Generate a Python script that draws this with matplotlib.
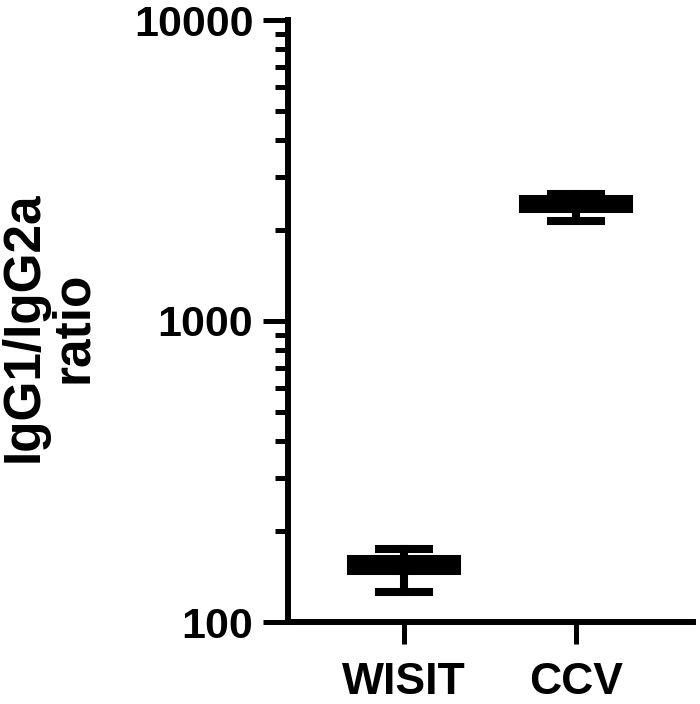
import numpy as np
import matplotlib.pyplot as plt
from matplotlib.ticker import LogLocator, NullFormatter, FixedLocator

plt.rcParams['font.family'] = ['Liberation Sans', 'DejaVu Sans']
plt.rcParams['font.weight'] = 'bold'

# box summary values
groups = ['WISIT', 'CCV']
whislo = [126, 2150]
q1 = [148, 2362]
med = [155, 2450]
q3 = [162, 2551]
whishi = [175, 2650]

stats = []
for i, g in enumerate(groups):
    stats.append(dict(label=g, whislo=whislo[i], q1=q1[i], med=med[i],
                      q3=q3[i], whishi=whishi[i], fliers=[]))

fig = plt.figure(figsize=(7, 7.04), dpi=100)
ax = fig.add_axes([288/700, (704-622)/704, (693-288)/700, (622-20)/704])

lw = 5.8
ax.bxp(stats, positions=[0, 1], widths=0.62, patch_artist=True,
       boxprops=dict(facecolor='black', edgecolor='black', linewidth=lw),
       whiskerprops=dict(color='black', linewidth=lw),
       capprops=dict(color='black', linewidth=lw),
       medianprops=dict(color='black', linewidth=lw),
       capwidths=0.29, showfliers=False)

ax.set_yscale('log')
ax.set_ylim(100, 10000)
ax.set_xlim(-0.674, 1.68)

ax.yaxis.set_major_locator(FixedLocator([100, 1000, 10000]))
ax.yaxis.set_major_formatter(plt.FuncFormatter(lambda v, p: '%d' % v))
ax.yaxis.set_minor_locator(LogLocator(base=10, subs=np.arange(2, 10)))
ax.yaxis.set_minor_formatter(NullFormatter())

ax.set_xticks([0, 1])
ax.set_xticklabels(groups)

for s in ['top', 'right']:
    ax.spines[s].set_visible(False)
for s in ['left', 'bottom']:
    ax.spines[s].set_linewidth(4.3)

ax.tick_params(axis='y', which='major', length=18, width=3.6, labelsize=31, pad=7)
ax.tick_params(axis='y', which='minor', length=9.5, width=3.6)
ax.tick_params(axis='x', which='major', length=16, width=3.6, labelsize=32, pad=13)

ax.set_ylabel('IgG1/IgG2a\nratio', fontsize=37, fontweight='bold', linespacing=1.0)
ax.yaxis.set_label_coords(-0.47, 0.49)

plt.savefig('out.png', dpi=100)
